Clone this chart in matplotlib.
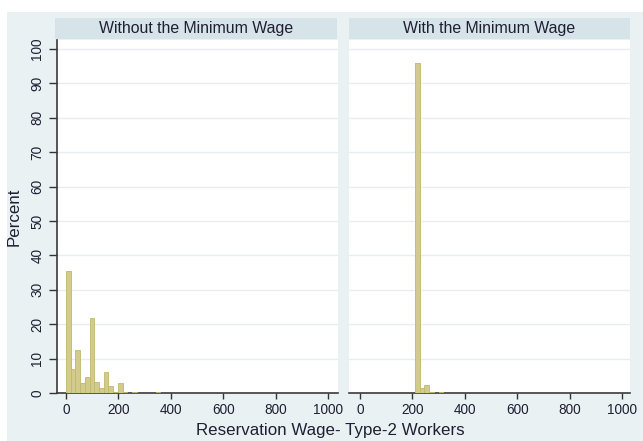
import numpy as np
import matplotlib
matplotlib.use("Agg")
import matplotlib.pyplot as plt
from matplotlib.patches import Rectangle

plt.rcParams['font.family'] = ['Liberation Sans', 'DejaVu Sans']

# histogram bins (wage units) and percent per bin
BIN_WIDTH = 18
no_mw_start = 0
no_mw_pct = [35.6, 7.0, 12.6, 2.9, 4.65, 21.7, 3.1, 1.5, 6.1, 1.9,
             0.4, 3.0, 0.3, 0.0, 0.2, 0.0, 0.0, 0.0, 0.0, 0.3]
mw_start = 210
mw_pct = [96.0, 1.4, 2.2, 0.4, 0.0, 0.3]

panel_titles = ["Without the Minimum Wage", "With the Minimum Wage"]
x_ticks = [0, 200, 400, 600, 800, 1000]
y_ticks = list(range(0, 101, 10))

W, H = 643, 441
BG = '#eaf1f3'
STRIP = '#d6e3e8'
GRID = '#e6eef1'
BAR_FACE = '#d3cb8d'
BAR_EDGE = '#c0b86c'
TXT = '#1f1f33'


def box(x0, y0, x1, y1):
    return [x0 / W, 1 - y1 / H, (x1 - x0) / W, (y1 - y0) / H]


fig = plt.figure(figsize=(W / 100, H / 100), dpi=100, facecolor='white')
fig.patches.append(Rectangle((7 / W, 0), 1 - 7 / W, 1 - 12 / H,
                             transform=fig.transFigure, facecolor=BG,
                             edgecolor='none', zorder=-10))

# (plot x0, x1), (strip x0, x1), xlim, bin start, percents
panels = [((57, 338), (55, 337), (-34.4, 1038), no_mw_start, no_mw_pct),
          ((349, 630), (349, 630), (-42, 1031), mw_start, mw_pct)]

for i, ((x0, x1), (s0, s1), xlim, start, pct) in enumerate(panels):
    ax = fig.add_axes(box(x0, 40, x1, 393))
    ax.set_facecolor('white')
    lefts = start + BIN_WIDTH * np.arange(len(pct))
    ax.bar(lefts, pct, width=BIN_WIDTH, align='edge', color=BAR_FACE,
           edgecolor=BAR_EDGE, linewidth=0.6, zorder=3)
    ax.set_xlim(*xlim)
    ax.set_ylim(0, 102.6)
    for v in y_ticks:
        ax.axhline(v, color=GRID, lw=1, zorder=1)
    ax.set_xticks(x_ticks)
    ax.set_xticklabels([str(t) for t in x_ticks], fontsize=9.8, color=TXT)
    ax.tick_params(axis='x', length=4, width=1, color='#333333', pad=3)
    for s in ['top', 'right']:
        ax.spines[s].set_visible(False)
    ax.spines['bottom'].set_color('#3a3a3a')
    ax.spines['bottom'].set_linewidth(1.2)
    if i == 0:
        ax.set_yticks(y_ticks)
        ax.set_yticklabels([str(t) for t in y_ticks], fontsize=9.8, color=TXT,
                           va='center')
        ax.tick_params(axis='y', length=6, width=1, color='#333333', pad=3,
                       labelrotation=90)
        ax.spines['left'].set_color('#3a3a3a')
        ax.spines['left'].set_linewidth(1.2)
    else:
        ax.set_yticks([])
        ax.spines['left'].set_visible(False)

    # panel header strip
    sx = fig.add_axes(box(s0, 18, s1, 39))
    sx.set_facecolor(STRIP)
    sx.set_xticks([])
    sx.set_yticks([])
    for s in sx.spines.values():
        s.set_visible(False)
    sx.text(0.5, 0.5, panel_titles[i], ha='center', va='center',
            fontsize=11.4, color=TXT, transform=sx.transAxes)

fig.text(14 / W, 1 - 217 / H, "Percent", rotation=90, ha='center',
         va='center', fontsize=12.2, color=TXT)
fig.text(330 / W, 1 - 431 / H, "Reservation Wage- Type-2 Workers",
         ha='center', va='center', fontsize=12.2, color=TXT)

fig.savefig("out.png", dpi=100, facecolor=fig.get_facecolor())
